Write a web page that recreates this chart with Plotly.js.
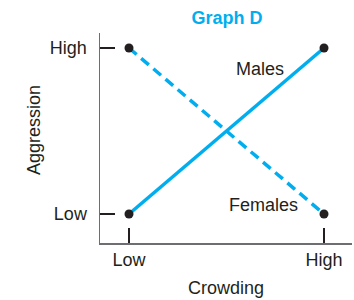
<!DOCTYPE html>
<html>
<head>
<meta charset="utf-8">
<script src="https://cdn.plot.ly/plotly-3.0.1.min.js"></script>
<style>html,body{margin:0;padding:0;background:#fff;}#chart{width:354px;height:300px;}</style>
</head>
<body>
<div id="chart"></div>
<script>
// Data
const crowdingLevels = [0, 1];          // Low, High crowding
const levelLabels = ['Low', 'High'];
const malesAggression = [0, 1];         // Low -> High
const femalesAggression = [1, 0];       // High -> Low
const seriesNames = ['Males', 'Females'];

const blue = '#00aeef';
const ink = '#231f20';
const font = 'Liberation Sans, Arial, Helvetica, sans-serif';

const traces = [
  {
    x: crowdingLevels, y: malesAggression, name: seriesNames[0],
    mode: 'lines+markers', type: 'scatter',
    line: {color: blue, width: 3.5},
    marker: {color: ink, size: 9},
    cliponaxis: false
  },
  {
    x: crowdingLevels, y: femalesAggression, name: seriesNames[1],
    mode: 'lines+markers', type: 'scatter',
    line: {color: blue, width: 3.5, dash: '10px,6px'},
    marker: {color: ink, size: 9},
    cliponaxis: false
  }
];

const layout = {
  width: 354, height: 300,
  margin: {l: 100, r: 2, t: 33, b: 57},
  paper_bgcolor: '#fff', plot_bgcolor: '#fff',
  showlegend: false,
  font: {family: font, size: 18, color: ink},
  title: {
    text: '<b>Graph D</b>',
    x: 0.504, xref: 'paper', xanchor: 'center',
    y: 0.94, yref: 'container', yanchor: 'middle',
    font: {family: font, size: 18, color: blue}
  },
  xaxis: {
    range: [-0.1487, 1.1436],
    tickvals: crowdingLevels, ticktext: levelLabels,
    ticks: 'inside', ticklen: 15, tickwidth: 1.5, tickcolor: ink,
    showline: true, linecolor: '#6d6e71', linewidth: 1.5,
    showgrid: false, zeroline: false,
    tickfont: {family: font, size: 18, color: ink},
    ticklabelstandoff: 0,
    title: {text: 'Crowding', font: {family: font, size: 18, color: ink}, standoff: 12}
  },
  yaxis: {
    range: [-0.1747, 1.0904],
    tickvals: [0, 1], ticktext: levelLabels,
    ticks: 'inside', ticklen: 15, tickwidth: 1.5, tickcolor: ink,
    showline: true, linecolor: '#6d6e71', linewidth: 1.5,
    showgrid: false, zeroline: false,
    tickfont: {family: font, size: 18, color: ink},
    ticklabelstandoff: 8
  },
  annotations: [
    {x: 0.672, y: 0.873, xref: 'x', yref: 'y', text: seriesNames[0], showarrow: false,
     font: {family: font, size: 18, color: ink}},
    {x: 0.692, y: 0.054, xref: 'x', yref: 'y', text: seriesNames[1], showarrow: false,
     font: {family: font, size: 18, color: ink}},
    {x: -0.262, y: 0.538, xref: 'paper', yref: 'paper', text: 'Aggression', showarrow: false,
     textangle: -90, xanchor: 'center', yanchor: 'middle',
     font: {family: font, size: 18, color: ink}}
  ]
};

Plotly.newPlot('chart', traces, layout, {displayModeBar: false, staticPlot: true});
</script>
</body>
</html>
